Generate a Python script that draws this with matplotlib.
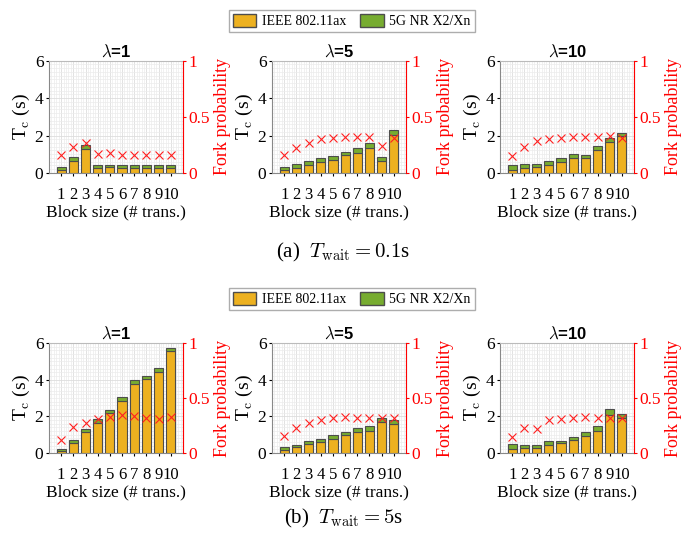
import numpy as np
import matplotlib.pyplot as plt
from matplotlib.patches import Patch
from matplotlib.ticker import MultipleLocator

plt.rcParams['font.family'] = ['Liberation Serif', 'DejaVu Serif']
plt.rcParams['mathtext.fontset'] = 'cm'

blocks = np.arange(1, 11)
lambdas = [1, 5, 10]

# T_c (s): IEEE 802.11ax part and total (with 5G NR X2/Xn on top)
# row a: T_wait = 0.1 s
wifi_a = [
    [0.18, 0.65, 1.30, 0.28, 0.30, 0.28, 0.28, 0.28, 0.28, 0.28],
    [0.18, 0.27, 0.41, 0.59, 0.70, 0.95, 1.09, 1.34, 0.66, 2.02],
    [0.18, 0.26, 0.29, 0.44, 0.59, 0.77, 0.77, 1.22, 1.63, 1.97],
]
total_a = [
    [0.30, 0.83, 1.47, 0.40, 0.43, 0.40, 0.40, 0.40, 0.40, 0.40],
    [0.32, 0.45, 0.61, 0.77, 0.88, 1.13, 1.34, 1.58, 0.84, 2.28],
    [0.40, 0.46, 0.46, 0.66, 0.79, 1.00, 0.95, 1.43, 1.85, 2.16],
]
fork_a = [
    [0.16, 0.23, 0.27, 0.17, 0.18, 0.16, 0.16, 0.16, 0.16, 0.16],
    [0.16, 0.22, 0.27, 0.30, 0.31, 0.32, 0.32, 0.32, 0.24, 0.31],
    [0.15, 0.23, 0.28, 0.30, 0.31, 0.32, 0.32, 0.32, 0.33, 0.31],
]
# row b: T_wait = 5 s
wifi_b = [
    [0.12, 0.55, 1.14, 1.64, 2.18, 2.86, 3.78, 4.05, 4.42, 5.56],
    [0.18, 0.31, 0.47, 0.59, 0.77, 0.97, 1.14, 1.21, 1.71, 1.57],
    [0.21, 0.27, 0.28, 0.44, 0.57, 0.73, 0.96, 1.20, 2.07, 1.91],
]
total_b = [
    [0.25, 0.72, 1.29, 1.85, 2.36, 3.08, 3.98, 4.22, 4.62, 5.74],
    [0.36, 0.45, 0.65, 0.77, 0.97, 1.14, 1.39, 1.46, 1.93, 1.78],
    [0.50, 0.44, 0.44, 0.65, 0.67, 0.90, 1.13, 1.47, 2.41, 2.11],
]
fork_b = [
    [0.12, 0.24, 0.27, 0.31, 0.33, 0.35, 0.34, 0.32, 0.31, 0.33],
    [0.16, 0.23, 0.27, 0.30, 0.32, 0.33, 0.32, 0.32, 0.32, 0.32],
    [0.15, 0.23, 0.22, 0.30, 0.31, 0.32, 0.33, 0.32, 0.32, 0.32],
]

c_wifi = '#EDB120'
c_nr = '#77AC30'
c_edge = '#4d4d4d'

fig = plt.figure(figsize=(6.87, 5.42), dpi=100)

lefts = [0.0713, 0.396, 0.728]
rows = [(0.681, 0.207, wifi_a, total_a, fork_a), (0.164, 0.203, wifi_b, total_b, fork_b)]

for bottom, height, wifi, total, fork in rows:
    for j, lam in enumerate(lambdas):
        ax = fig.add_axes([lefts[j], bottom, 0.195, height])
        w = np.array(wifi[j])
        t = np.array(total[j])
        ax.bar(blocks, w, width=0.75, color=c_wifi, edgecolor=c_edge, linewidth=0.8, zorder=3)
        ax.bar(blocks, t - w, bottom=w, width=0.75, color=c_nr, edgecolor=c_edge, linewidth=0.8, zorder=3)
        ax.set_xlim(0, 11)
        ax.set_ylim(0, 6)
        ax.set_xticks(blocks)
        ax.set_yticks([0, 2, 4, 6])
        ax.xaxis.set_minor_locator(MultipleLocator(0.2))
        ax.yaxis.set_minor_locator(MultipleLocator(0.2))
        ax.grid(which='major', color='#dddddd', linewidth=0.6, zorder=0)
        ax.grid(which='minor', color='#ececec', linewidth=0.5, zorder=0)
        ax.tick_params(which='minor', length=0)
        ax.tick_params(which='major', length=2, labelsize=12.5, pad=2)
        ax.tick_params(axis='x', labelsize=12, pad=8)
        for s in ['top', 'right']:
            ax.spines[s].set_color('#bbbbbb')
        ax.spines['left'].set_color('#888888')
        ax.spines['bottom'].set_color('#888888')
        ax.set_xlabel('Block size (# trans.)', fontsize=12.5, labelpad=1)
        ax.set_ylabel(r'T$_{\rm c}$ (s)', fontsize=14, labelpad=2)
        ax.set_title(r'$\mathbf{\lambda}$=%d' % lam, fontsize=12, fontweight='bold',
                     family='Liberation Sans', pad=3)

        ax2 = ax.twinx()
        ax2.plot(blocks, fork[j], 'x', color='#ff2020', markersize=5.5, markeredgewidth=0.8, zorder=5)
        ax2.set_ylim(0, 1)
        ax2.set_yticks([0, 0.5, 1])
        ax2.set_yticklabels(['0', '0.5', '1'])
        ax2.tick_params(axis='y', colors='red', labelsize=12.5, length=2, pad=2)
        ax2.spines['right'].set_color('red')
        ax2.spines['top'].set_visible(False)
        ax2.spines['left'].set_visible(False)
        ax2.spines['bottom'].set_visible(False)
        ax2.set_ylabel('Fork probability', color='red', fontsize=13, labelpad=3)

handles = [Patch(facecolor=c_wifi, edgecolor=c_edge, label='IEEE 802.11ax'),
           Patch(facecolor=c_nr, edgecolor=c_edge, label='5G NR X2/Xn')]
for ly in [1 - 21 / 542, 1 - 299 / 542]:
    fig.legend(handles=handles, loc='center', bbox_to_anchor=(0.512, ly), ncol=2,
               fontsize=10, frameon=True, fancybox=False, edgecolor='#999999',
               handlelength=1.7, handleheight=1.1, columnspacing=1.0, handletextpad=0.4,
               borderpad=0.3)

fig.text(0.5, 1 - 252 / 542, r'(a)  $T_{\mathrm{wait}} = 0.1$s', ha='center', va='center', fontsize=15)
fig.text(0.5, 1 - 518 / 542, r'(b)  $T_{\mathrm{wait}} = 5$s', ha='center', va='center', fontsize=15)

fig.savefig('out.png', dpi=100)
